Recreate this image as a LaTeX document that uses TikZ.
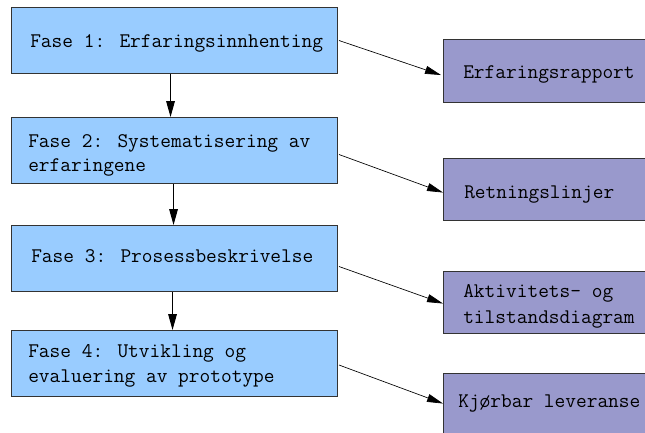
\documentclass[tikz,border=0pt]{standalone}
\usepackage{fontspec}
\setmainfont{DejaVu Serif}
\usetikzlibrary{arrows.meta,calc}
\definecolor{phasefill}{HTML}{99CCFF}
\definecolor{resfill}{HTML}{9999CC}
\definecolor{edgecol}{HTML}{333333}
\begin{document}
\begin{tikzpicture}[x=0.75pt,y=-0.75pt,
  phasebox/.style={draw=edgecol,fill=phasefill,line width=0.8pt,anchor=north west,inner sep=0pt,
    minimum width=244.5pt,minimum height=49.5pt},
  resbox/.style={draw=edgecol,fill=resfill,line width=0.8pt,anchor=north west,inner sep=0pt,
    minimum width=165pt,minimum height=46.5pt},
  lbl/.style={anchor=base west,inner sep=0pt,font=\ttfamily\fontsize{15.6pt}{18pt}\selectfont},
  varrow/.style={-{Triangle[length=12pt,width=6.5pt]},line width=0.8pt,black},
  darrow/.style={-{Triangle[length=12pt,width=6pt]},line width=0.5pt,black}]
\useasboundingbox (0,0) rectangle (645,432);
\clip (0,0) rectangle (645,432);
\fill[white] (0,0) rectangle (645,432);
% phase boxes
\node[phasebox] (b1) at (11,7) {};
\node[phasebox] (b2) at (11,117) {};
\node[phasebox] (b3) at (11,225) {};
\node[phasebox] (b4) at (11,330) {};
% result boxes
\node[resbox,minimum height=47.25pt] (r1) at (443,39) {};
\node[resbox] (r2) at (443,158) {};
\node[resbox] (r3) at (443,271) {};
\node[resbox,minimum height=52.5pt] (r4) at (443,373) {};
% labels
\node[lbl] (t1) at (30,47) {Fase 1: Erfaringsinnhenting};
\node[lbl] (t2a) at (28,147) {Fase 2: Systematisering av};
\node[lbl] (t2b) at (28,171) {erfaringene};
\node[lbl] (t3) at (31,262) {Fase 3: Prosessbeskrivelse};
\node[lbl] (t4a) at (28,357) {Fase 4: Utvikling og};
\node[lbl] (t4b) at (28,382) {evaluering av prototype};
\node[lbl] (s1) at (463,78) {Erfaringsrapport};
\node[lbl] (s2) at (464,198) {Retningslinjer};
\node[lbl] (s3a) at (463,297) {Aktivitets– og};
\node[lbl] (s3b) at (463,323) {tilstandsdiagram};
\node[lbl] (s4) at (458,407) {Kjørbar leveranse};
% vertical arrows
\draw[varrow] ($(b1.south)+(-4,0)$) -- ($(b2.north)+(-4,0)$);
\draw[varrow] ($(b2.south)+(-1,0)$) -- ($(b3.north)+(-1,0)$);
\draw[varrow] ($(b3.south)+(-2,0)$) -- ($(b4.north)+(-2,0)$);
% diagonal arrows
\draw[darrow] ($(b1.east)+(1,0)$) -- ($(r1.west)+(-2,4)$);
\draw[darrow] ($(b2.east)+(1,4)$) -- ($(r2.west)+(0,3)$);
\draw[darrow] ($(b3.east)+(1,8)$) -- ($(r3.west)+(0,1)$);
\draw[darrow] ($(b4.east)+(1,1.5)$) -- ($(r4.west)+(0,-5)$);
\end{tikzpicture}
\end{document}
